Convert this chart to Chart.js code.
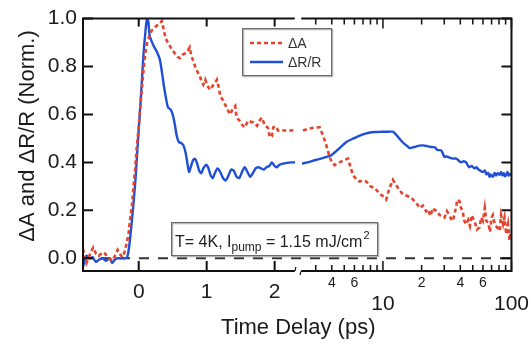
<!DOCTYPE html>
<html><head><meta charset="utf-8">
<script src="https://cdn.jsdelivr.net/npm/chart.js@4.4.0/dist/chart.umd.min.js"></script>
<style>html,body{margin:0;padding:0;background:#fff;}#wrap{width:531px;height:345px;}</style>
</head><body><div id="wrap"><canvas id="c" width="531" height="345"></canvas></div>
<script>
// ---------- data ----------
const seriesNames = ['ΔA', 'ΔR/R'];
// ΔA, linear part of the time axis (ps)
const dA_lin_t = [-0.82,-0.79,-0.77,-0.74,-0.70,-0.67,-0.63,-0.59,-0.55,-0.51,-0.47,-0.43,-0.39,-0.35,-0.31,-0.27,-0.24,-0.21,-0.18,-0.15,-0.13,-0.10,-0.08,-0.05,-0.03,0.00,0.02,0.05,0.07,0.10,0.12,0.16,0.19,0.23,0.26,0.30,0.34,0.37,0.40,0.44,0.48,0.53,0.57,0.61,0.65,0.68,0.72,0.75,0.77,0.80,0.83,0.87,0.90,0.93,0.95,0.98,1.01,1.05,1.09,1.12,1.15,1.18,1.20,1.24,1.27,1.31,1.34,1.38,1.42,1.44,1.48,1.51,1.56,1.61,1.65,1.69,1.74,1.78,1.81,1.86,1.90,1.93,1.96,1.98,2.02,2.05,2.10,2.15,2.22,2.30];
const dA_lin_v = [0.04,0.0,-0.02,0.0,0.03,0.045,0.02,0.01,0.02,0.025,0.01,0.0,-0.01,0.01,0.035,0.015,0.005,0.025,0.06,0.10,0.155,0.22,0.29,0.38,0.46,0.55,0.62,0.72,0.785,0.86,0.895,0.93,0.95,0.96,0.97,0.975,0.99,0.95,0.915,0.895,0.875,0.855,0.84,0.835,0.85,0.855,0.865,0.88,0.85,0.825,0.80,0.775,0.758,0.735,0.724,0.745,0.72,0.703,0.72,0.73,0.745,0.71,0.676,0.66,0.642,0.62,0.60,0.62,0.635,0.587,0.575,0.56,0.546,0.574,0.57,0.567,0.553,0.575,0.587,0.553,0.545,0.505,0.51,0.546,0.55,0.533,0.535,0.533,0.533,0.535];
// ΔR/R, linear part
const dRR_lin_t = [-0.82,-0.77,-0.72,-0.68,-0.63,-0.58,-0.53,-0.48,-0.43,-0.39,-0.35,-0.31,-0.26,-0.21,-0.17,-0.14,-0.11,-0.08,-0.05,-0.02,0.01,0.04,0.07,0.10,0.12,0.14,0.16,0.19,0.23,0.27,0.31,0.34,0.37,0.40,0.43,0.47,0.50,0.53,0.56,0.59,0.63,0.66,0.69,0.72,0.74,0.77,0.80,0.83,0.86,0.89,0.92,0.95,0.99,1.02,1.06,1.09,1.12,1.16,1.20,1.24,1.28,1.32,1.36,1.40,1.44,1.48,1.52,1.56,1.60,1.64,1.68,1.72,1.76,1.80,1.84,1.88,1.92,1.96,2.00,2.03,2.07,2.12,2.18,2.24,2.30];
const dRR_lin_v = [-0.035,0.01,0.0,0.005,-0.015,-0.005,0.0,-0.01,0.0,-0.02,-0.005,0.0,0.0,0.0,0.005,0.05,0.13,0.22,0.32,0.45,0.58,0.71,0.85,0.95,0.995,0.99,0.93,0.905,0.88,0.86,0.83,0.78,0.72,0.67,0.63,0.62,0.60,0.56,0.51,0.485,0.48,0.47,0.44,0.39,0.36,0.385,0.41,0.415,0.395,0.365,0.355,0.375,0.39,0.38,0.345,0.335,0.355,0.375,0.36,0.335,0.325,0.345,0.37,0.365,0.34,0.335,0.36,0.38,0.36,0.34,0.355,0.375,0.38,0.375,0.37,0.38,0.385,0.40,0.385,0.38,0.39,0.395,0.398,0.40,0.40];
// ΔA, logarithmic part
const dA_log_t = [2.39,2.6,2.9,3.22,3.42,3.63,3.85,4.0,4.21,4.6,5.0,5.35,5.6,5.85,6.2,6.59,7.0,7.43,8.0,8.62,9.4,10.3,10.6,11.2,11.96,12.5,13.1,14.3,15.5,16.6,17.6,18.5,19.3,20.5,21.7,22.5,23.4,24.5,25.5,26.5,27.6,28.8,30.1,31.5,32.9,34,35,36.5,38,39.4,40.5,41.7,43,44.4,46,47.5,49,50,52,54,56.5,58,60,62,63.7,66,68,70,71.6,74,77,80.8,83,86,88.3,91,94,96.6,99];
const dA_log_v = [0.533,0.54,0.545,0.546,0.512,0.471,0.423,0.40,0.389,0.40,0.41,0.416,0.38,0.347,0.33,0.32,0.325,0.32,0.30,0.293,0.27,0.253,0.245,0.29,0.327,0.31,0.293,0.266,0.26,0.253,0.238,0.225,0.21,0.22,0.196,0.204,0.177,0.21,0.20,0.197,0.18,0.177,0.17,0.197,0.18,0.163,0.156,0.197,0.245,0.238,0.21,0.197,0.156,0.142,0.16,0.135,0.18,0.17,0.149,0.12,0.129,0.17,0.156,0.21,0.156,0.149,0.11,0.17,0.18,0.142,0.13,0.115,0.18,0.142,0.17,0.10,0.142,0.074,0.115];
// ΔR/R, logarithmic part
const dRR_log_t = [2.35,2.6,3.0,3.5,3.97,4.5,5.19,5.9,6.59,7.3,8.13,9.0,10,11,11.96,12.7,13.5,14.5,15.3,16.1,17,18,19.2,20.4,22,23.2,24.4,25.5,26.5,28.4,30.1,31,33,35,37.2,38.8,40.6,42.5,44.4,46,47.1,49,51.5,53.2,55.5,57.5,59.9,62,64,66,67.5,69,71.6,74,76,78,80.8,83,85,87,89,91,93,95,97,100];
const dRR_log_v = [0.395,0.40,0.41,0.42,0.43,0.455,0.485,0.50,0.512,0.52,0.526,0.527,0.528,0.528,0.528,0.515,0.498,0.48,0.47,0.46,0.462,0.466,0.47,0.471,0.468,0.465,0.464,0.462,0.452,0.45,0.423,0.425,0.42,0.416,0.416,0.408,0.40,0.405,0.40,0.385,0.38,0.385,0.375,0.38,0.37,0.365,0.36,0.366,0.35,0.356,0.34,0.35,0.34,0.356,0.345,0.355,0.348,0.36,0.346,0.355,0.342,0.348,0.36,0.345,0.352,0.348];
// axes / ticks
const yTickValues = [0, 0.2, 0.4, 0.6, 0.8, 1.0];
const linTickValues = [0, 1, 2];
const logTickValues = [3,4,5,6,7,8,9,10,20,30,40,50,60,70,80,90,100];
const logTickLabels = {4:'4', 6:'6', 10:'10', 20:'2', 40:'4', 60:'6', 100:'100'};
const xTitle = 'Time Delay (ps)';
const yTitle = 'ΔA and ΔR/R (Norm.)';
const noteParts = ['T= 4K, I', 'pump', ' = 1.15 mJ/cm', '2'];

// ---------- styling ----------
const FAM = "'Liberation Sans', Arial, Helvetica, sans-serif";
const RED = '#e5432c';
const BLUE = '#1f4fd6';
const INK = '#1a1a1a';

function pts(ts, vs) { return ts.map((t, i) => ({x: t, y: vs[i]})); }

const redStyle = {borderColor: RED, borderWidth: 2.6, borderDash: [4, 3], pointRadius: 0, tension: 0, fill: false};
const blueStyle = {borderColor: BLUE, borderWidth: 2.4, pointRadius: 0, tension: 0.25, fill: false};

const framePlugin = {
  id: 'frame',
  beforeDatasetsDraw(chart) {
    const {ctx, chartArea: a, scales} = chart;
    const y0 = scales.y.getPixelForValue(0);
    ctx.save();
    ctx.beginPath();
    ctx.setLineDash([10, 9]);
    ctx.lineDashOffset = 1;
    ctx.lineWidth = 2;
    ctx.strokeStyle = '#333';
    ctx.moveTo(a.left, y0); ctx.lineTo(a.right, y0);
    ctx.stroke();
    ctx.restore();
  },
  afterDatasetsDraw(chart) {
    const {ctx, chartArea: a, scales} = chart;
    const xl = scales.xLin, xg = scales.xLog, ys = scales.y;
    const bx = xl.right;
    const g0 = bx - 3, g1 = bx + 3.5;
    ctx.save();
    ctx.strokeStyle = '#111';
    ctx.lineWidth = 2;
    ctx.setLineDash([]);
    ctx.beginPath();
    ctx.moveTo(a.left, a.top - 1); ctx.lineTo(a.left, a.bottom + 1);
    ctx.moveTo(a.right, a.top - 1); ctx.lineTo(a.right, a.bottom + 1);
    ctx.moveTo(a.left, a.top); ctx.lineTo(g0, a.top);
    ctx.moveTo(g1, a.top); ctx.lineTo(a.right, a.top);
    ctx.moveTo(a.left, a.bottom); ctx.lineTo(g0, a.bottom);
    ctx.moveTo(g1, a.bottom); ctx.lineTo(a.right, a.bottom);
    ctx.stroke();
    ctx.lineWidth = 1.2;
    ctx.beginPath();
    ctx.moveTo(g0 - 1, a.bottom); ctx.quadraticCurveTo(g0 + 1, a.bottom, g0 + 1, a.bottom - 4);
    ctx.moveTo(g1 + 1, a.bottom); ctx.quadraticCurveTo(g1 - 1, a.bottom, g1 - 1, a.bottom + 4);
    ctx.stroke();
    ctx.lineWidth = 2;
    ctx.beginPath();
    ys.ticks.forEach(t => {
      const p = ys.getPixelForValue(t.value);
      ctx.moveTo(a.left, p); ctx.lineTo(a.left + 10, p);
      ctx.moveTo(a.right, p); ctx.lineTo(a.right - 10, p);
    });
    xl.ticks.forEach(t => {
      const p = xl.getPixelForValue(t.value);
      ctx.moveTo(p, a.bottom); ctx.lineTo(p, a.bottom - 10);
      ctx.moveTo(p, a.top); ctx.lineTo(p, a.top + 8);
    });
    ctx.stroke();
    ctx.lineWidth = 1.5;
    ctx.beginPath();
    xg.ticks.forEach(t => {
      const p = xg.getPixelForValue(t.value);
      const major = (t.value === 10 || t.value === 100);
      const len = major ? 10 : 6;
      ctx.moveTo(p, a.bottom); ctx.lineTo(p, a.bottom - len);
      ctx.moveTo(p, a.top); ctx.lineTo(p, a.top + len);
    });
    ctx.stroke();

    // legend box
    const lx = 242, ly = 28, lw = 89, lh = 47;
    ctx.fillStyle = '#fff';
    ctx.fillRect(lx, ly, lw, lh);
    ctx.lineWidth = 1.5; ctx.strokeStyle = '#b5b5b5';
    ctx.strokeRect(lx + 1.5, ly + 1.5, lw, lh);
    ctx.lineWidth = 1; ctx.strokeStyle = '#6a6a6a';
    ctx.strokeRect(lx + 0.5, ly + 0.5, lw, lh);
    const entries = [{name: seriesNames[0], st: redStyle, y: ly + 15}, {name: seriesNames[1], st: blueStyle, y: ly + 34}];
    entries.forEach(e => {
      ctx.beginPath();
      ctx.strokeStyle = e.st.borderColor; ctx.lineWidth = e.st.borderWidth;
      ctx.setLineDash(e.st.borderDash || []);
      ctx.moveTo(lx + 8, e.y); ctx.lineTo(lx + 41, e.y);
      ctx.stroke();
      ctx.setLineDash([]);
      ctx.fillStyle = '#333';
      ctx.font = '14px ' + FAM;
      ctx.textAlign = 'left'; ctx.textBaseline = 'middle';
      ctx.fillText(e.name, lx + 46, e.y + 1);
    });

    // note box
    const nx = 171, ny = 222, nw = 206, nh = 33;
    ctx.fillStyle = '#fff';
    ctx.fillRect(nx, ny, nw, nh);
    ctx.lineWidth = 1.5; ctx.strokeStyle = '#b5b5b5';
    ctx.strokeRect(nx + 1.5, ny + 1.5, nw, nh);
    ctx.lineWidth = 1; ctx.strokeStyle = '#6a6a6a';
    ctx.strokeRect(nx + 0.5, ny + 0.5, nw, nh);
    ctx.fillStyle = '#222';
    ctx.textAlign = 'left'; ctx.textBaseline = 'alphabetic';
    let cx = nx + 4;
    const base = ny + 25;
    ctx.font = '16px ' + FAM; ctx.fillText(noteParts[0], cx, base); cx += ctx.measureText(noteParts[0]).width;
    ctx.font = '12px ' + FAM; ctx.fillText(noteParts[1], cx, base + 4); cx += ctx.measureText(noteParts[1]).width;
    ctx.font = '16px ' + FAM; ctx.fillText(noteParts[2], cx, base); cx += ctx.measureText(noteParts[2]).width;
    ctx.font = '11px ' + FAM; ctx.fillText(noteParts[3], cx + 1, base - 8);

    // axis titles
    ctx.fillStyle = INK;
    ctx.font = '22px ' + FAM;
    ctx.textAlign = 'center'; ctx.textBaseline = 'middle';
    ctx.fillText(xTitle, (a.left + a.right) / 2 + 1, 328);
    ctx.save();
    ctx.translate(28, 136);
    ctx.rotate(-Math.PI / 2);
    ctx.fillText(yTitle, 0, 0);
    ctx.restore();
    ctx.restore();
  }
};

const data = {
  datasets: [
    Object.assign({label: seriesNames[0], data: pts(dA_lin_t, dA_lin_v), xAxisID: 'xLin', yAxisID: 'y'}, redStyle),
    Object.assign({label: seriesNames[1], data: pts(dRR_lin_t, dRR_lin_v), xAxisID: 'xLin', yAxisID: 'y'}, blueStyle),
    Object.assign({label: seriesNames[0], data: pts(dA_log_t, dA_log_v), xAxisID: 'xLog', yAxisID: 'y'}, redStyle),
    Object.assign({label: seriesNames[1], data: pts(dRR_log_t, dRR_log_v), xAxisID: 'xLog', yAxisID: 'y'}, blueStyle)
  ]
};

new Chart(document.getElementById('c'), {
  type: 'line',
  data: data,
  plugins: [framePlugin],
  options: {
    responsive: false,
    animation: false,
    devicePixelRatio: 1,
    layout: {padding: {top: 14, right: 19, left: 0, bottom: 0}},
    plugins: {legend: {display: false}, tooltip: {enabled: false}},
    scales: {
      xLin: {
        type: 'linear', axis: 'x', position: 'bottom', stack: 'time', stackWeight: 215,
        min: -0.82, max: 2.34,
        border: {display: false}, grid: {display: false, drawTicks: false},
        afterBuildTicks: s => { s.ticks = linTickValues.map(v => ({value: v})); },
        afterFit: s => { s.height = 74; },
        ticks: {
          autoSkip: false, maxRotation: 0, minRotation: 0, padding: 2, color: INK,
          font: {family: FAM, size: 21, lineHeight: 1.876},
          callback: v => String(v)
        }
      },
      xLog: {
        type: 'logarithmic', axis: 'x', position: 'bottom', stack: 'time', stackWeight: 214,
        min: 2.174, max: 100,
        border: {display: false}, grid: {display: false, drawTicks: false},
        afterBuildTicks: s => { s.ticks = logTickValues.map(v => ({value: v})); },
        afterFit: s => { s.height = 74; },
        ticks: {
          autoSkip: false, maxRotation: 0, minRotation: 0, padding: 2, color: INK,
          font: c => {
            const v = c.tick ? c.tick.value : 0;
            if (v === 10 || v === 100) return {family: FAM, size: 21, lineHeight: 2.952};
            return {family: FAM, size: 14, lineHeight: 1.471};
          },
          callback: v => logTickLabels[v] || ''
        }
      },
      y: {
        type: 'linear', axis: 'y', position: 'left', min: -0.053, max: 1.0,
        border: {display: false}, grid: {display: false, drawTicks: false},
        afterBuildTicks: s => { s.ticks = yTickValues.map(v => ({value: v})); },
        afterFit: s => { s.width = 83; },
        ticks: {padding: 6, color: INK, font: {family: FAM, size: 21}, callback: v => v.toFixed(1)}
      }
    }
  }
});
</script>
</body></html>
